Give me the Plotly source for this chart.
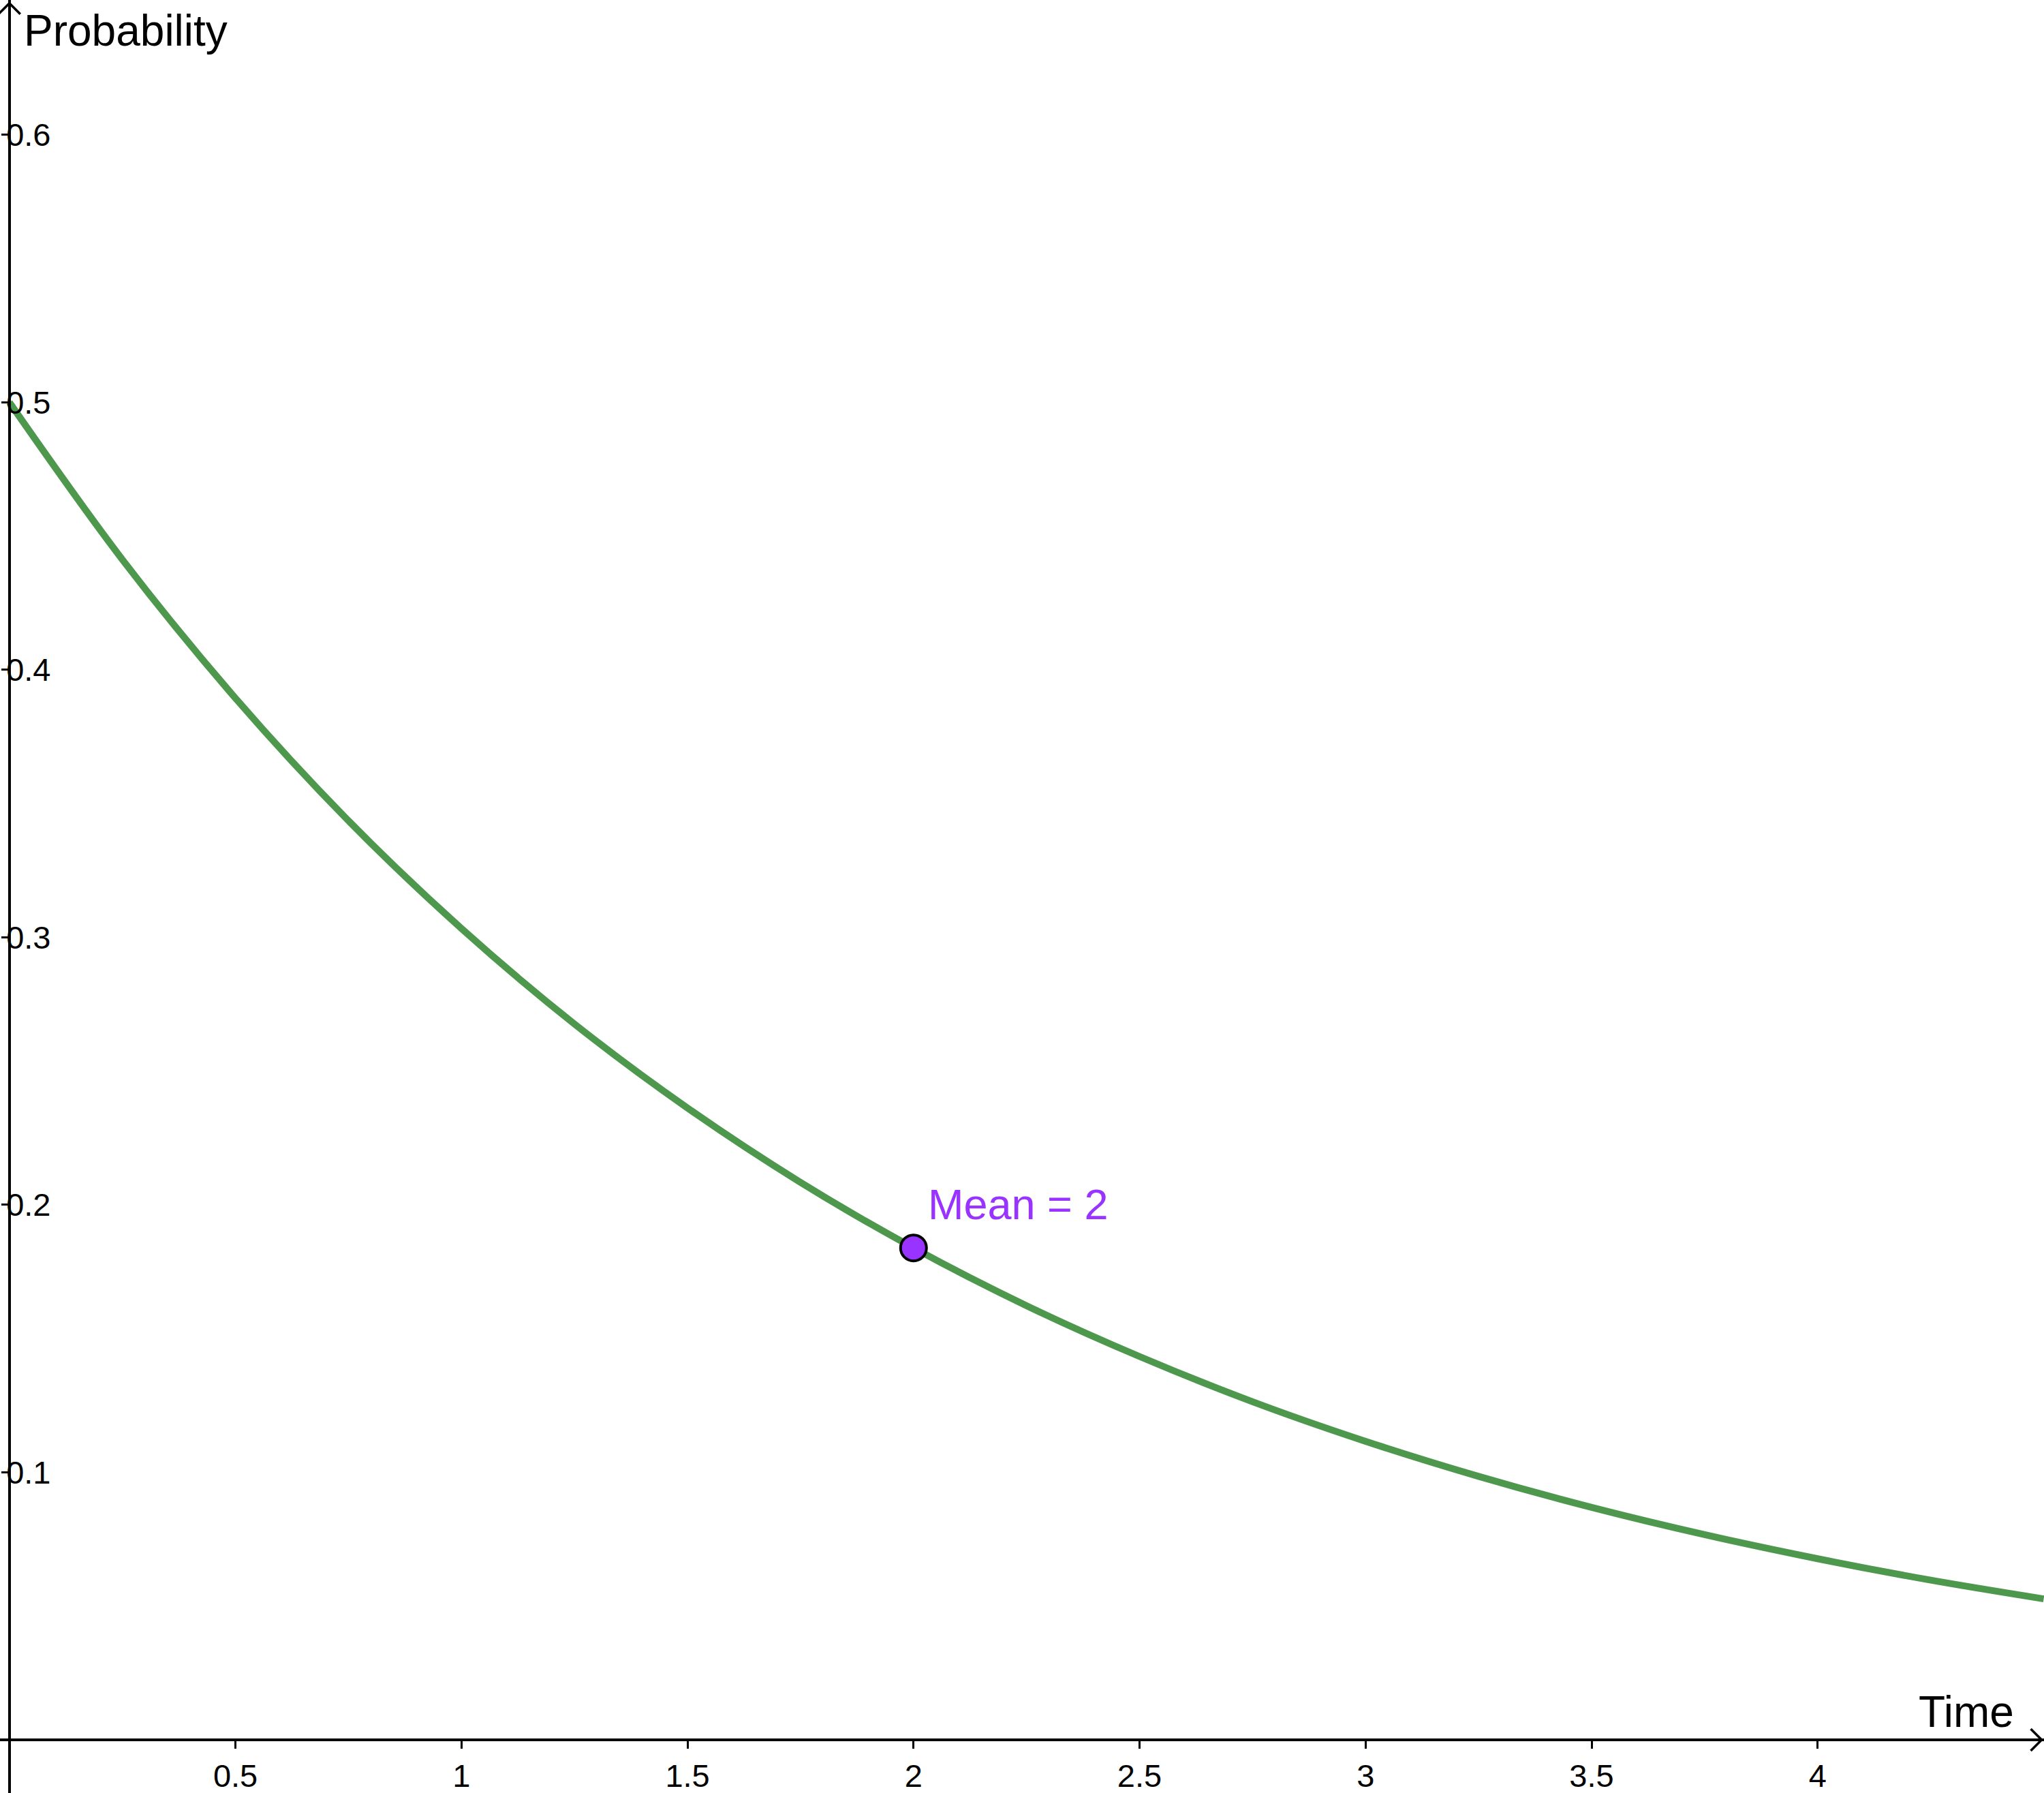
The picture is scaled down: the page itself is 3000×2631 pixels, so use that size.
import plotly.graph_objects as go

# ---- data ----
time_x = [0, 0.25, 0.5, 0.75, 1, 1.25, 1.5, 1.75, 2, 2.25, 2.5, 2.75, 3, 3.25,
          3.5, 3.75, 4, 4.25, 4.5]
prob_y = [0.5000, 0.4412, 0.3894, 0.3436, 0.3033, 0.2676, 0.2362, 0.2084,
          0.1839, 0.1623, 0.1433, 0.1264, 0.1116, 0.0985, 0.0869, 0.0767,
          0.0677, 0.0597, 0.0527]
mean_x = [2]
mean_y = [0.1839]
mean_label = "Mean = 2"

x_ticks = [0.5, 1, 1.5, 2, 2.5, 3, 3.5, 4]
x_tick_labels = ["0.5", "1", "1.5", "2", "2.5", "3", "3.5", "4"]
y_ticks = [0.1, 0.2, 0.3, 0.4, 0.5, 0.6]
y_tick_labels = ["0.1", "0.2", "0.3", "0.4", "0.5", "0.6"]

x_title = "Time"
y_title = "Probability"

# ---- view ----
W, H = 3000, 2631
XMIN, XMAX = -0.0208, 4.5007
YMIN, YMAX = -0.01987, 0.6504
X_TIP = 4.4955
Y_TIP = 0.6492

FONT = "Liberation Sans, Arial, sans-serif"
GREEN = "rgb(77,152,77)"
PURPLE = "#9933FF"

x_axis_pos = (0 - YMIN) / (YMAX - YMIN)
y_axis_pos = (0 - XMIN) / (XMAX - XMIN)

# data units per pixel (for the axis arrow chevrons)
DX = (XMAX - XMIN) / W
DY = (YMAX - YMIN) / H
ARM = 16  # chevron arm extent in px

fig = go.Figure()

fig.add_trace(go.Scatter(
    x=time_x, y=prob_y, mode="lines",
    line=dict(color=GREEN, width=10, shape="spline", smoothing=1.0),
    hoverinfo="skip",
))

fig.add_trace(go.Scatter(
    x=mean_x, y=mean_y, mode="markers",
    marker=dict(size=38, color=PURPLE, line=dict(color="black", width=4)),
    hoverinfo="skip",
))

# axis arrow chevrons (open), built from the axis tips
fig.add_trace(go.Scatter(
    x=[X_TIP - ARM * DX, X_TIP, X_TIP - ARM * DX],
    y=[ARM * DY, 0, -ARM * DY],
    mode="lines", line=dict(color="black", width=3.5),
    hoverinfo="skip", cliponaxis=False,
))
fig.add_trace(go.Scatter(
    x=[-ARM * DX, 0, ARM * DX],
    y=[Y_TIP - ARM * DY, Y_TIP, Y_TIP - ARM * DY],
    mode="lines", line=dict(color="black", width=3.5),
    hoverinfo="skip", cliponaxis=False,
))

annotations = [
    dict(x=mean_x[0], y=mean_y[0], xref="x", yref="y", text=mean_label,
         showarrow=False, xanchor="left", yanchor="middle",
         xshift=19, yshift=64,
         font=dict(family=FONT, size=63, color=PURPLE)),
    dict(x=33 / W, y=1 - 45 / H, xref="paper", yref="paper", text=y_title,
         showarrow=False, xanchor="left", yanchor="middle",
         font=dict(family=FONT, size=64, color="black")),
    dict(x=2958 / W, y=1 - 2512 / H, xref="paper", yref="paper", text=x_title,
         showarrow=False, xanchor="right", yanchor="middle",
         font=dict(family=FONT, size=64, color="black")),
]

fig.update_layout(
    width=W, height=H,
    margin=dict(l=0, r=0, t=0, b=0),
    paper_bgcolor="white", plot_bgcolor="white",
    showlegend=False,
    annotations=annotations,
    xaxis=dict(
        range=[XMIN, XMAX], anchor="free", position=x_axis_pos,
        showline=True, linecolor="black", linewidth=3.5,
        ticks="outside", ticklen=11, tickwidth=3, tickcolor="black",
        tickvals=x_ticks, ticktext=x_tick_labels,
        tickfont=dict(family=FONT, size=47, color="black"),
        showgrid=False, zeroline=False,
    ),
    yaxis=dict(
        range=[YMIN, YMAX], anchor="free", position=y_axis_pos, side="left",
        showline=True, linecolor="black", linewidth=3.5,
        ticks="outside", ticklen=10, tickwidth=3, tickcolor="black",
        ticklabelposition="inside",
        tickvals=y_ticks, ticktext=y_tick_labels,
        tickfont=dict(family=FONT, size=47, color="black"),
        showgrid=False, zeroline=False,
    ),
)

fig.write_html(
    "out.html",
    config={"displayModeBar": False},
    post_script="document.body.style.margin='0';document.body.style.overflow='hidden';",
)
